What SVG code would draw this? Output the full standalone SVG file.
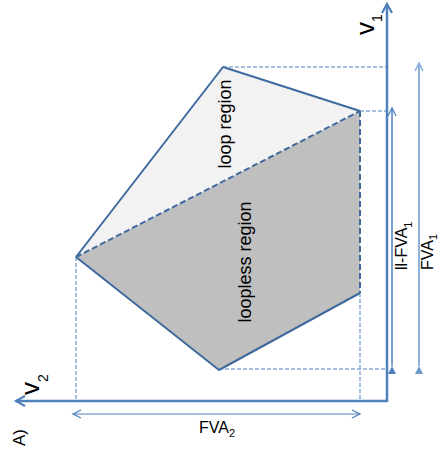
<svg xmlns="http://www.w3.org/2000/svg" width="442" height="451" viewBox="0 0 442 451">
<style>
  .edge { fill: none; stroke: #3f6a9e; stroke-width: 2; stroke-linejoin: round; }
  .edge-dash { fill: none; stroke: #3f6a9e; stroke-width: 2; stroke-dasharray: 6 3; }
  .proj { fill: none; stroke: #4f81bd; stroke-width: 1; stroke-dasharray: 4 2; }
  .axis { fill: none; stroke: #4f81bd; stroke-width: 2.5; }
  .lbl { font-family: "Liberation Sans", Arial, sans-serif; fill: #000; }
</style>
<defs>
  <marker id="chevAxis" markerUnits="userSpaceOnUse" markerWidth="14" markerHeight="14" refX="10" refY="6" orient="auto">
    <path d="M1,1 L10,6 L1,11" fill="none" stroke="#4f81bd" stroke-width="2.2"/>
  </marker>
  <marker id="chevBlue" markerUnits="userSpaceOnUse" markerWidth="12" markerHeight="12" refX="9" refY="5" orient="auto-start-reverse">
    <path d="M1,1 L9,5 L1,9" fill="none" stroke="#4f81bd" stroke-width="1.3"/>
  </marker>
  <marker id="chevLight" markerUnits="userSpaceOnUse" markerWidth="12" markerHeight="12" refX="9" refY="5" orient="auto-start-reverse">
    <path d="M1,1 L9,5 L1,9" fill="none" stroke="#8db0dc" stroke-width="1.6"/>
  </marker>
  <marker id="triBlue" markerUnits="userSpaceOnUse" markerWidth="10" markerHeight="10" refX="8" refY="4" orient="auto">
    <path d="M0,0 L8,4 L0,8 Z" fill="#4f81bd"/>
  </marker>
  <marker id="triLight" markerUnits="userSpaceOnUse" markerWidth="10" markerHeight="10" refX="8" refY="4" orient="auto">
    <path d="M0,0 L8,4 L0,8 Z" fill="#6f98cc"/>
  </marker>
</defs>

<g id="loop-region">
  <polygon points="76,257 223,67 360,111" fill="#f2f2f2"/>
  <text class="lbl" font-size="18" text-anchor="middle" transform="translate(231,124) rotate(-90)">loop region</text>
</g>

<g id="loopless-region">
  <polygon points="76,257 360,111 360,293 219,370" fill="#bfbfbf"/>
  <text class="lbl" font-size="18" text-anchor="middle" transform="translate(251,262) rotate(-90)">loopless region</text>
</g>

<g id="polygon-edges">
  <polyline class="edge" points="76,257 223,67 360,111"/>
  <polyline class="edge" points="360,293 219,370 76,257"/>
  <line class="edge-dash" x1="76" y1="257" x2="360" y2="111"/>
  <line class="edge-dash" x1="360" y1="111" x2="360" y2="293"/>
</g>

<g id="connectors">
  <line class="proj" x1="223" y1="67" x2="387" y2="67"/>
  <line class="proj" x1="360" y1="111" x2="387" y2="111"/>
  <line class="proj" x1="219" y1="369" x2="387" y2="369" stroke-width="1.4"/>
  <line class="proj" x1="76" y1="257" x2="76" y2="401"/>
  <line class="proj" x1="360" y1="293" x2="360" y2="401"/>
  <line class="axis" x1="387" y1="401" x2="16" y2="401" marker-end="url(#chevAxis)"/>
  <line class="axis" x1="387" y1="402" x2="387" y2="4" marker-end="url(#chevAxis)"/>
  <line x1="392" y1="366" x2="392" y2="108" stroke="#4f81bd" stroke-width="1.5" marker-start="url(#triBlue)" marker-end="url(#chevBlue)"/>
  <line x1="419" y1="366" x2="419" y2="63" stroke="#8db0dc" stroke-width="2" marker-start="url(#triLight)" marker-end="url(#chevLight)"/>
  <line x1="73" y1="414" x2="360" y2="414" stroke="#4f81bd" stroke-width="1" marker-start="url(#chevBlue)" marker-end="url(#chevBlue)"/>
</g>

<g id="label-v1">
  <text class="lbl" font-size="26" transform="translate(374,35) rotate(-90)">v<tspan font-size="14" dy="8">1</tspan></text>
</g>
<g id="label-v2">
  <text class="lbl" font-size="26" transform="translate(39,395) rotate(-90)">v<tspan font-size="14" dy="9">2</tspan></text>
</g>
<g id="label-llfva1">
  <text class="lbl" font-size="16" transform="translate(407,270) rotate(-90)">ll-FVA<tspan font-size="11" dy="5">1</tspan></text>
</g>
<g id="label-fva1">
  <text class="lbl" font-size="16" transform="translate(433,270) rotate(-90)">FVA<tspan font-size="11" dy="4">1</tspan></text>
</g>
<g id="label-fva2">
  <text class="lbl" font-size="16" x="199" y="433">FVA<tspan font-size="11" dy="4">2</tspan></text>
</g>
<g id="label-a">
  <text class="lbl" font-size="17" transform="translate(25,446) rotate(-90)">A)</text>
</g>
</svg>
